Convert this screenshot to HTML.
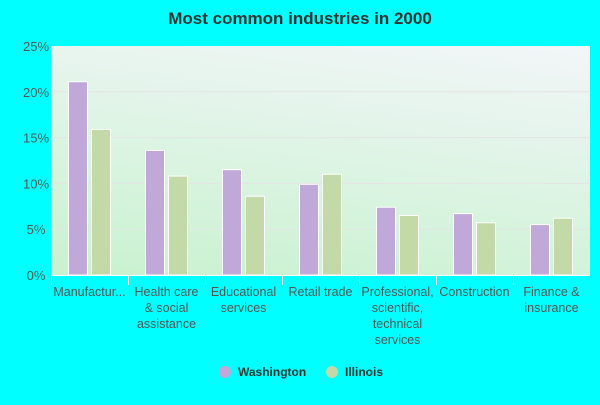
<!DOCTYPE html>
<html><head><meta charset="utf-8"><style>
body{margin:0;background:#00ffff;font-family:"Liberation Sans",sans-serif;}
svg text{font-family:"Liberation Sans",sans-serif;}
</style></head><body>
<svg width="600" height="400">
<defs>
<linearGradient id="bg" x1="0" y1="1" x2="0.4" y2="-0.3">
<stop offset="0" stop-color="#c8f2cf"/><stop offset="1" stop-color="#f6f6fc"/>
</linearGradient>
</defs>
<text x="300" y="24" text-anchor="middle" font-size="17" font-weight="bold" fill="#333">Most common industries in 2000</text>
<rect x="51" y="46" width="539" height="229" fill="url(#bg)"/>
<g id="grid"></g><g id="bars"></g><g id="xaxis"></g>
<g>
<circle cx="225" cy="372" r="6" fill="#c0a8d8"/>
<text x="238" y="376" font-size="12" font-weight="bold" fill="#333">Washington</text>
<circle cx="332" cy="372" r="6" fill="#c4d9a8"/>
<text x="345" y="376" font-size="12" font-weight="bold" fill="#333">Illinois</text>
</g>
</svg>
<script>
const categories=[["Manufactur..."],["Health care","& social","assistance"],["Educational","services"],["Retail trade"],["Professional,","scientific,","technical","services"],["Construction"],["Finance &","insurance"]];
const washington=[21.1,13.6,11.5,9.9,7.4,6.7,5.5];
const illinois=[15.9,10.8,8.6,11.0,6.5,5.7,6.2];
const yTicks=[0,5,10,15,20,25];
const NS="http://www.w3.org/2000/svg";
const x0=51,gw=77,yB=275,yT=46;
const y=v=>yB-(v/25)*(yB-yT);
function mk(tag,attrs,parent){const e=document.createElementNS(NS,tag);for(const k in attrs)e.setAttribute(k,attrs[k]);parent.appendChild(e);return e;}
const grid=document.getElementById('grid'),bars=document.getElementById('bars'),xa=document.getElementById('xaxis');
yTicks.forEach(t=>{
 if(t>0&&t<25){const l=mk('line',{x1:x0,x2:590,y1:y(t),y2:y(t),stroke:'#e4e4e4','stroke-width':1},grid);
 
 }
 const tx=mk('text',{x:36,y:y(t)+5,'text-anchor':'middle','font-size':13,fill:'#555'},grid);tx.textContent=t+'%';
 
 
});
categories.forEach((c,i)=>{
 const gx=x0+i*gw;
 const b1=mk('rect',{x:gx+17.5,y:y(washington[i]),width:19,height:yB-y(washington[i]),fill:'#c0a8d8',stroke:'#fff','stroke-width':1},bars);
 
 
 const b2=mk('rect',{x:gx+40.5,y:y(illinois[i]),width:19,height:yB-y(illinois[i]),fill:'#c4d9a8',stroke:'#fff','stroke-width':1},bars);
 
 
 const tk=mk('line',{x1:gx+0.5,x2:gx+0.5,y1:yB,y2:yB+10,stroke:'#fff','stroke-width':1},xa);
 
 
 const tx=mk('text',{x:gx+gw/2,y:yB+21,'text-anchor':'middle','font-size':12.5,fill:'#555'},xa);
 
 
 c.forEach((ln,j)=>{const s=mk('tspan',{x:gx+gw/2,dy:j?16:0},tx);s.textContent=ln;});
});
const ax=mk('line',{x1:x0,x2:590,y1:yB+0.5,y2:yB+0.5,stroke:'#fff','stroke-width':1},xa);


</script>
</body></html>
